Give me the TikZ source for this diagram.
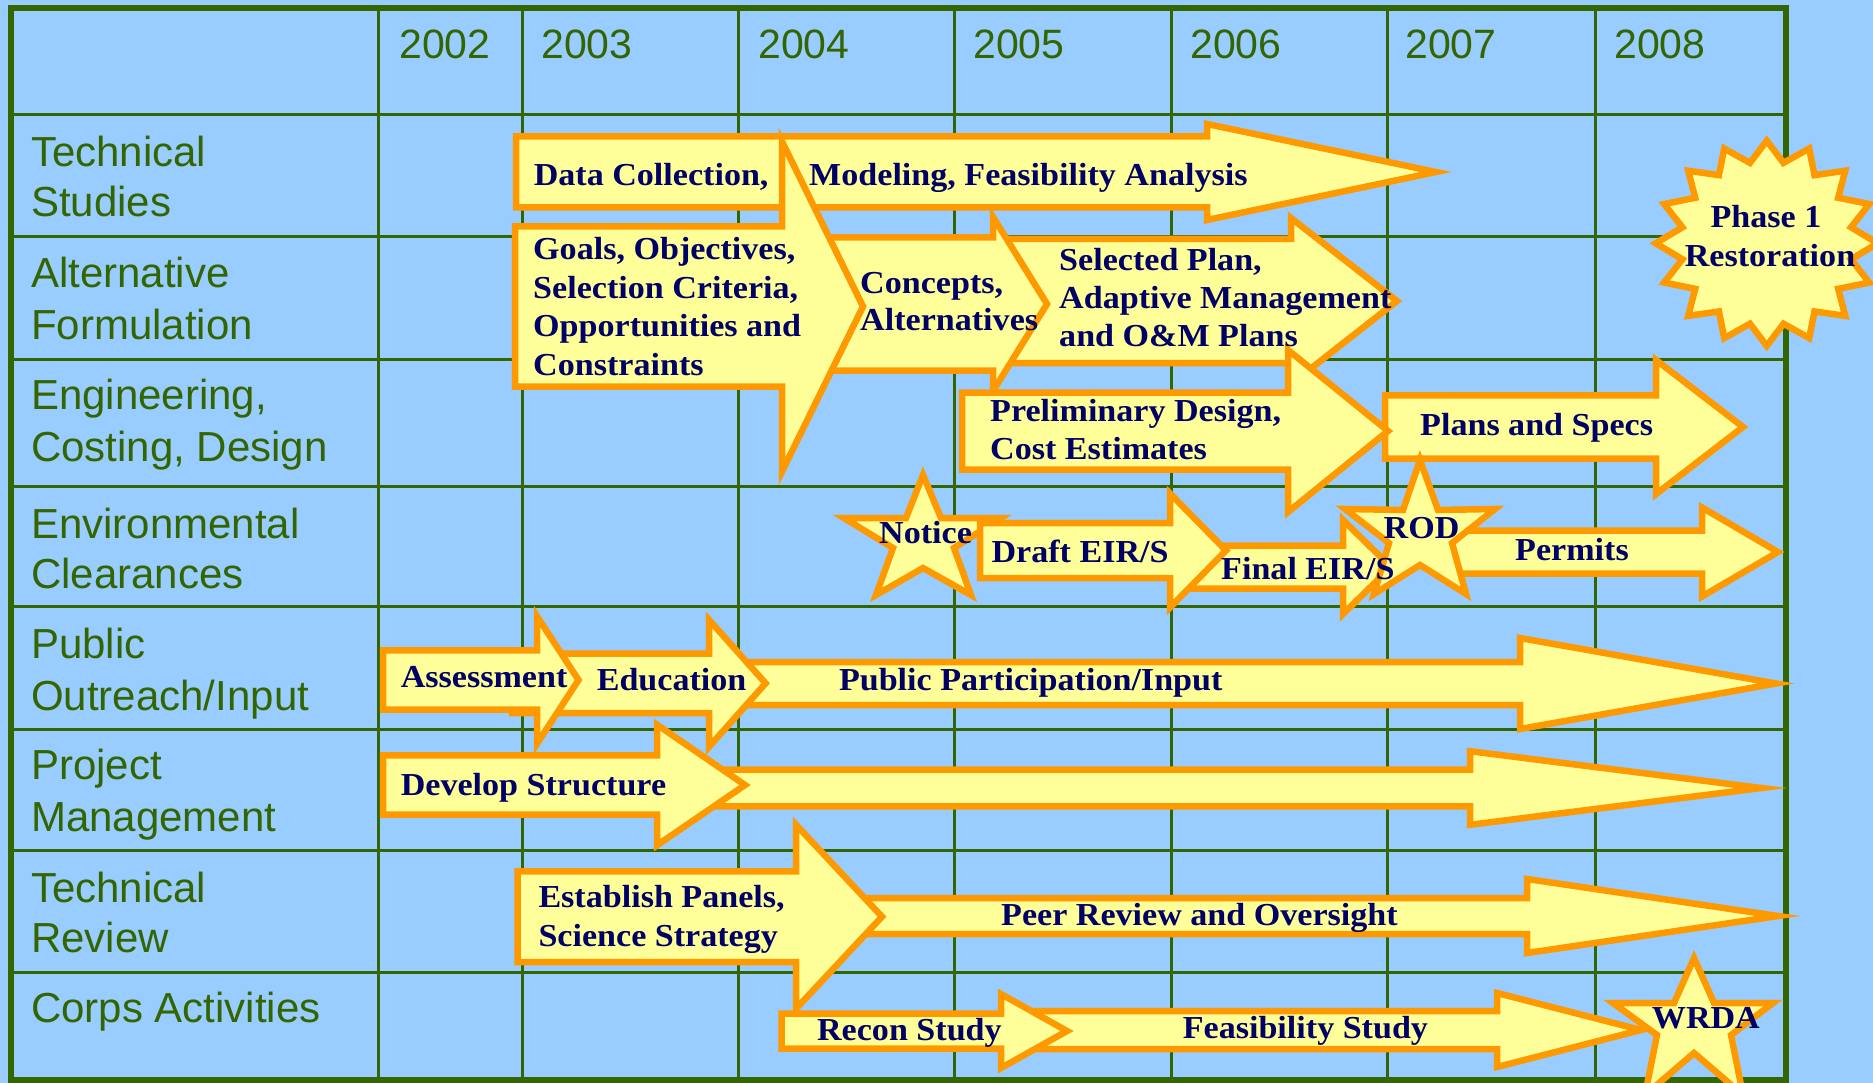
\documentclass[tikz,border=0pt]{standalone}
\usepackage{fontspec}
\setmainfont{Liberation Serif}[FakeStretch=1.065]
\newfontfamily\lblfont{Liberation Sans}
\definecolor{bgblue}{HTML}{99CCFF}
\definecolor{gridgreen}{HTML}{336600}
\definecolor{arrfill}{HTML}{FFFF99}
\definecolor{arrline}{HTML}{FF9900}
\definecolor{navytext}{HTML}{000066}
\tikzset{
  gridline/.style={draw=gridgreen, line width=3pt},
  gridborder/.style={draw=gridgreen, line width=6pt},
  shapebox/.style={fill=arrfill, draw=arrline, line width=6.5pt, line join=miter},
  atext/.style={anchor=base west, inner sep=0pt, text=navytext, font=\bfseries\fontsize{32}{38}\selectfont},
  ctext/.style={atext, anchor=base},
  rowlabel/.style={anchor=base west, inner sep=0pt, text=gridgreen, font=\lblfont\fontsize{42}{50}\selectfont},
  yearlabel/.style={anchor=base west, inner sep=0pt, text=gridgreen, font=\lblfont\fontsize{41}{48}\selectfont},
}
% x1, yc, half shaft, head back x, half head, tip x
\newcommand{\tlarrow}[6]{\draw[shapebox] (#1,#2-#3) -- (#4,#2-#3) -- (#4,#2-#5) -- (#6,#2) -- (#4,#2+#5) -- (#4,#2+#3) -- (#1,#2+#3) -- cycle;}
\begin{document}
\begin{tikzpicture}[x=1pt,y=-1pt]
\useasboundingbox (0,0) rectangle (1873,1083);
\fill[bgblue] (0,0) rectangle (1873,1083);
% grid
\foreach \x in {378,522,738,954,1171,1387,1595} \draw[gridline] (\x,8) -- (\x,1080);
\foreach \y in {115,237,359,486,606,729,850,972} \draw[gridline] (11,\y) -- (1786,\y);
\draw[gridborder] (11,8) rectangle (1786,1080);
% years
\node[yearlabel] (y2002) at (399,58.5) {2002};
\node[yearlabel] (y2003) at (541,58.5) {2003};
\node[yearlabel] (y2004) at (758,58.5) {2004};
\node[yearlabel] (y2005) at (973,58.5) {2005};
\node[yearlabel] (y2006) at (1190,58.5) {2006};
\node[yearlabel] (y2007) at (1405,58.5) {2007};
\node[yearlabel] (y2008) at (1614,58.5) {2008};
% row labels
\node[rowlabel] (l1a) at (31,167) {Technical};
\node[rowlabel] (l1b) at (31,217) {Studies};
\node[rowlabel] (l2a) at (31,287.5) {Alternative};
\node[rowlabel] (l2b) at (31,339) {Formulation};
\node[rowlabel] (l3a) at (31,409) {Engineering,};
\node[rowlabel] (l3b) at (31,461.5) {Costing, Design};
\node[rowlabel] (l4a) at (31,538) {Environmental};
\node[rowlabel] (l4b) at (31,588) {Clearances};
\node[rowlabel] (l5a) at (31,658) {Public};
\node[rowlabel] (l5b) at (31,710) {Outreach/Input};
\node[rowlabel] (l6a) at (31,779) {Project};
\node[rowlabel] (l6b) at (31,831) {Management};
\node[rowlabel] (l7a) at (31,902) {Technical};
\node[rowlabel] (l7b) at (31,952) {Review};
\node[rowlabel] (l8a) at (31,1022) {Corps Activities};
% rows 1-3 shapes
\tlarrow{516}{172}{35.5}{1207}{48}{1436}
\tlarrow{1000}{301}{62}{1291}{83}{1397}
\tlarrow{770}{304}{66.5}{993}{87}{1047}
\tlarrow{515}{306.5}{80}{782}{165}{863}
\tlarrow{1385}{427}{31.7}{1656}{67}{1743}
\tlarrow{962}{431}{38.5}{1288}{81}{1388}
\draw[shapebox] (1766.7,140.7) \foreach \i in {1,...,16} { -- ({1766.7+86*cos(90+22.5*\i-11.25)},{243.3-82*sin(90+22.5*\i-11.25)}) -- ({1766.7+111*cos(90+22.5*\i)},{243.3-102.6*sin(90+22.5*\i)}) } -- cycle;
% row 4 shapes
\draw[shapebox] (923,475) -- (941,518) -- (1001,518) -- (954,548) -- (971,595) -- (923,568) -- (876,595) -- (893,548) -- (844,518) -- (906,518) -- cycle;
\tlarrow{1185}{567}{21.5}{1343}{47}{1391}
\tlarrow{980}{550.5}{27.5}{1170}{57}{1226}
\tlarrow{1440}{552}{21.5}{1702}{44.5}{1778}
\draw[shapebox] (1420,460) -- (1438,510) -- (1495,509) -- (1452,543) -- (1466,594) -- (1420,565) -- (1374,594) -- (1389,543) -- (1345,509) -- (1403,510) -- cycle;
% row 5
\tlarrow{730}{683.5}{21.5}{1520}{45.5}{1776}
\tlarrow{512}{683.3}{29.7}{709}{63.5}{765.6}
\tlarrow{383}{680}{29.7}{537}{63.7}{578.5}
% row 6
\tlarrow{700}{788}{18.4}{1470}{36.8}{1761}
\tlarrow{383}{785}{29.7}{657}{60.3}{745}
% row 8
\draw[shapebox] (1694,958) -- (1714,1003) -- (1773,1003) -- (1731,1035) -- (1743,1095) -- (1694,1053) -- (1645,1095) -- (1657,1035) -- (1613,1003) -- (1674,1003) -- cycle;
\tlarrow{1010}{1030}{19}{1497}{37}{1641}
\tlarrow{781.6}{1031}{17.5}{1001}{37}{1067}
% row 7
\tlarrow{800}{916}{18}{1527}{37}{1778}
\tlarrow{517.5}{916.7}{45.4}{796}{92}{882}
% texts
\node[atext] (tdc) at (533.6,186) {Data Collection,};
\node[atext] (tmod) at (809,186) {Modeling, Feasibility Analysis};
\node[atext] (tg1) at (533,260) {Goals, Objectives,};
\node[atext] (tg2) at (533,298.4) {Selection Criteria,};
\node[atext] (tg3) at (533,336.8) {Opportunities and};
\node[atext] (tg4) at (533,375.2) {Constraints};
\node[atext] (tc1) at (860,294) {Concepts,};
\node[atext] (tc2) at (860,330) {Alternatives};
\node[atext] (ts1) at (1059,270) {Selected Plan,};
\node[atext] (ts2) at (1059,308) {Adaptive Management};
\node[atext] (ts3) at (1059,346) {and O\&M Plans};
\node[atext] (tp1) at (990,421) {Preliminary Design,};
\node[atext] (tp2) at (990,459) {Cost Estimates};
\node[atext] (tps) at (1420,435) {Plans and Specs};
\node[ctext] (tph1) at (1766,228) {Phase 1};
\node[ctext] (tph2) at (1770,267) {Restoration};
\node[atext] (tnot) at (879,543) {Notice};
\node[atext] (tdr) at (991.4,562.7) {Draft EIR/S};
\node[atext] (tfi) at (1221,579.3) {Final EIR/S};
\node[atext] (trod) at (1383.5,538) {ROD};
\node[atext] (tper) at (1515,560.7) {Permits};
\node[atext] (tas) at (400.6,687.3) {Assessment};
\node[atext] (ted) at (596.6,690) {Education};
\node[atext] (tpub) at (838.8,690) {Public Participation/Input};
\node[atext] (tdev) at (400.6,795) {Develop Structure};
\node[atext] (te1) at (538.3,907.3) {Establish Panels,};
\node[atext] (te2) at (538.3,946) {Science Strategy};
\node[atext] (tpeer) at (1001,925) {Peer Review and Oversight};
\node[atext] (trec) at (816.9,1040.7) {Recon Study};
\node[atext] (tfea) at (1182.6,1038.7) {Feasibility Study};
\node[atext] (twr) at (1651.7,1028.3) {WRDA};
\end{tikzpicture}
\end{document}
